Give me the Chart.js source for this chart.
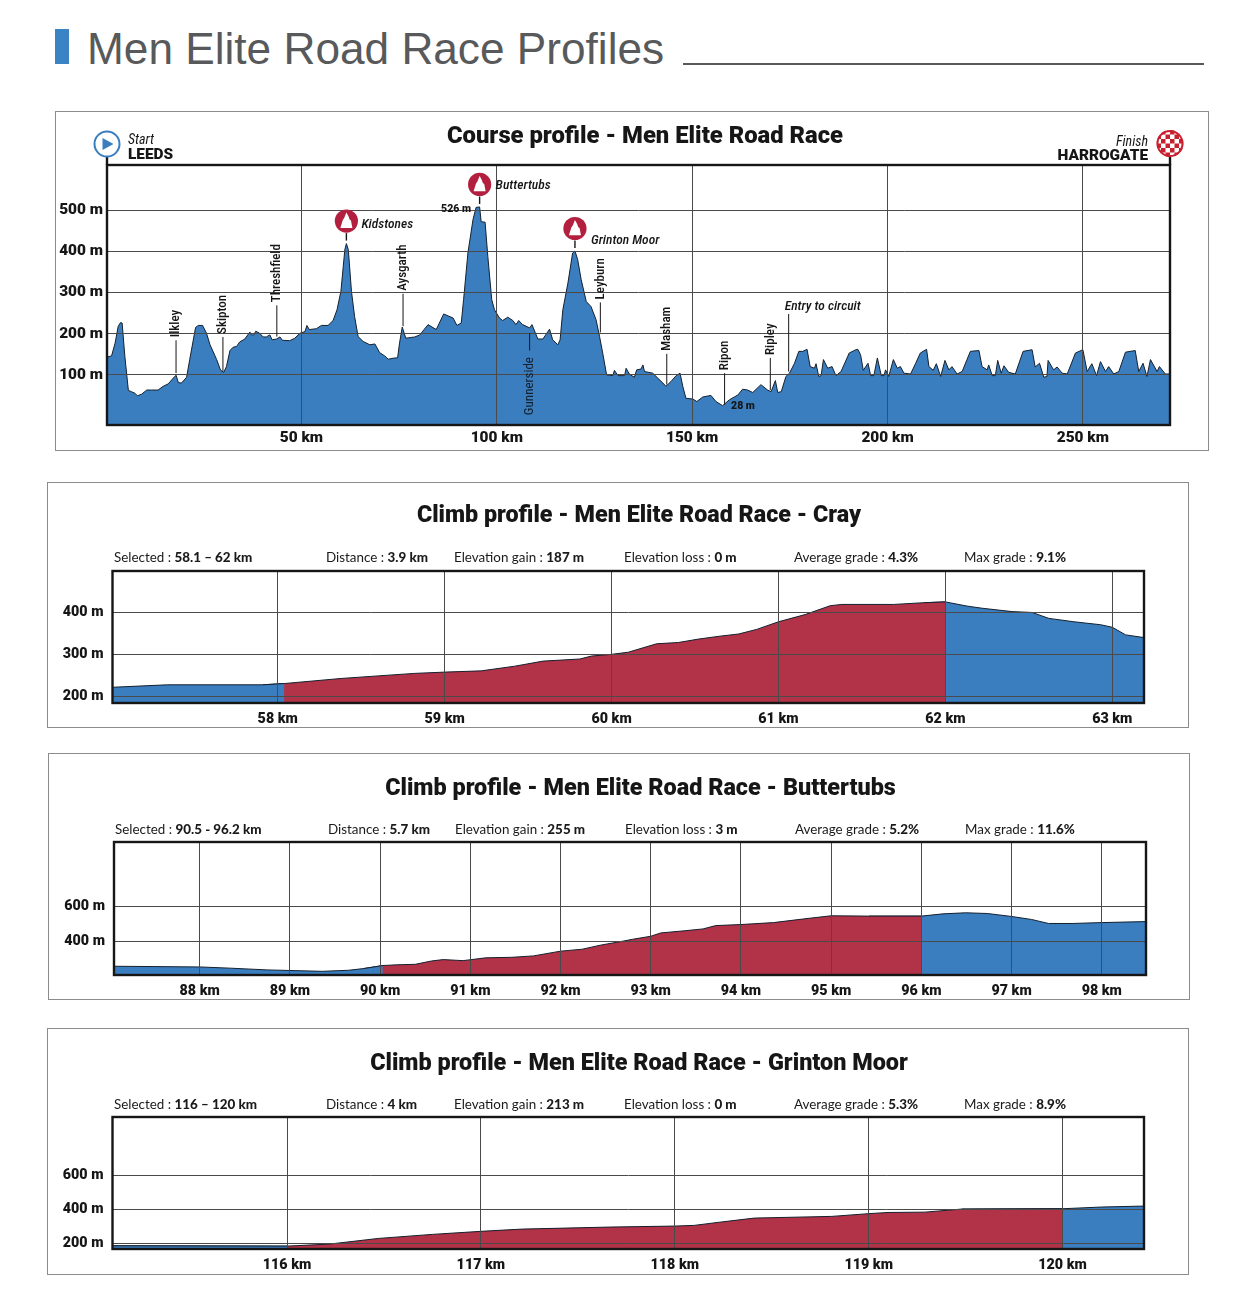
<!DOCTYPE html>
<html><head><meta charset="utf-8">
<script src="https://cdn.jsdelivr.net/npm/chart.js@4/dist/chart.umd.js"></script>
<style>
html,body{margin:0;padding:0;background:#fff}
#page{position:relative;width:1246px;height:1300px;overflow:hidden;font-family:Lato,sans-serif;color:#1a1a1a}
#page>*{position:absolute}
.panel{border:1px solid #8c8c8c;box-sizing:border-box}
.stat{font-size:13.4px;line-height:16px;white-space:nowrap}
.stat b{font-weight:900}
canvas{display:block}
</style></head><body><div id="page">
<div style="left:55px;top:29px;width:14px;height:35px;background:#3a84c6"></div>
<div id="head" style="left:87px;top:23.5px;font:44.2px 'Liberation Sans',Arial,sans-serif;color:#58595b;white-space:nowrap">Men Elite Road Race Profiles</div>
<div style="left:683px;top:63px;width:521px;height:2px;background:#58595b"></div>
</div>
<script>
const courseKm=[0.2,1.4,2.3,3.1,3.7,4.1,4.8,5.7,6.5,7.4,8.0,9.1,10.4,11.6,13.3,14.6,15.9,17.2,17.9,18.5,19.3,20.6,21.4,22.9,23.6,24.7,25.7,26.6,28.3,29.3,30.1,30.8,31.7,32.5,33.4,34.2,35.5,36.8,37.2,37.8,38.3,39.3,40.2,41.0,41.9,42.5,43.6,44.5,45.1,47.0,48.3,49.6,50.9,51.4,52.0,53.8,55.1,56.8,58.1,59.1,60.1,61.1,61.5,62.0,62.8,63.6,64.5,65.8,67.5,68.8,70.0,71.3,72.2,73.9,74.6,75.1,75.8,76.7,79.0,80.3,82.4,84.5,86.4,88.8,89.8,90.9,91.5,92.6,93.9,94.7,95.6,96.0,97.0,97.7,98.7,99.4,100.7,101.5,102.8,104.1,104.9,105.6,106.6,108.4,109.0,110.5,111.8,113.5,114.3,115.6,116.2,116.9,118.2,119.4,120.0,120.7,121.6,122.9,124.1,125.4,126.3,127.1,128.1,129.7,130.1,131.0,132.7,133.1,133.9,135.2,135.8,136.9,137.4,137.8,139.9,141.2,142.5,143.3,144.6,145.9,146.9,147.6,148.4,150.2,151.2,152.7,154.8,156.1,157.8,159.5,161.7,162.9,164.2,165.5,167.6,169.3,170.2,171.3,171.9,172.8,174.0,174.9,176.2,177.3,178.3,179.4,180.2,181.3,181.7,182.4,183.0,183.6,184.7,185.8,186.8,188.1,190.2,191.9,192.4,193.1,193.8,195.0,195.7,196.5,197.4,198.4,199.1,199.5,200.3,201.5,202.5,203.3,204.2,205.9,207.2,208.4,210.0,210.6,211.7,212.5,213.6,214.7,215.7,216.5,217.8,219.1,221.2,223.4,224.2,225.5,225.9,226.8,227.6,228.2,229.1,229.8,231.0,232.7,234.7,237.0,237.8,238.9,240.0,240.8,241.1,242.5,243.4,244.7,246.0,248.1,250.0,251.1,252.3,253.5,254.5,255.8,256.6,257.9,259.2,260.9,263.4,264.3,265.4,266.4,267.3,269.0,269.6,271.1,272.4];
const courseElev=[143,146,177,218,227,226,145,62,59,55,49,53,63,63,63,72,78,92,99,81,80,94,137,215,220,220,201,173,137,111,106,120,159,167,169,180,187,204,197,197,206,201,192,192,197,185,187,192,184,183,189,201,205,220,210,212,220,220,232,258,303,404,419,404,303,242,193,181,173,175,154,146,138,141,141,177,216,189,192,197,222,210,248,238,220,226,283,396,477,507,508,472,471,388,283,258,238,232,240,232,222,232,222,214,222,187,187,211,185,173,185,258,323,396,401,380,331,278,266,234,193,153,100,98,111,98,98,116,102,94,112,114,124,108,104,92,80,72,84,98,104,72,43,41,35,46,50,35,25,39,51,65,63,57,76,63,59,86,57,59,96,104,128,157,157,162,120,116,127,96,98,137,116,120,98,108,153,161,162,149,111,128,98,98,141,98,98,112,96,137,116,120,104,102,128,153,162,120,111,127,96,135,112,120,102,108,157,159,120,112,124,98,98,135,104,122,106,102,157,161,119,128,94,96,135,112,119,104,102,153,161,108,127,98,132,108,120,102,108,155,159,108,128,96,137,108,120,102,102];
const courseKmTicks=[50,100,150,200,250];
const courseElevTicks=[100,200,300,400,500];

const crayKm=[57.0,57.34,57.91,58.04,58.38,58.82,59,59.22,59.42,59.59,59.81,59.88,60,60.1,60.27,60.4,60.52,60.65,60.76,60.87,61,61.16,61.31,61.38,61.69,61.87,62,62.13,62.22,62.4,62.52,62.62,62.77,62.93,63,63.08,63.2];
const crayElev=[222,228,228,231,243,255,258,261,272,284,289,296,300,305,325,328,336,343,348,359,377,394,415,418,418,422,424,414,409,401,399,385,377,370,364,346,339];
const crayKmTicks=[58,59,60,61,62,63];
const crayElevTicks=[200,300,400];

const buttertubsKm=[87.04,88,88.34,88.75,89.36,89.65,89.82,90.03,90.18,90.39,90.57,90.7,90.92,91.17,91.46,91.7,92,92.24,92.44,92.69,92.8,93,93.11,93.37,93.58,93.72,94,94.36,94.68,95,95.42,96,96.24,96.49,96.73,97,97.22,97.41,97.67,98,98.5];
const buttertubsElev=[261,257,250,240,232,238,248,265,269,272,291,299,293,309,312,320,347,358,381,404,415,432,451,463,474,493,499,510,530,549,547,547,560,566,562,545,528,505,505,510,516];
const buttertubsKmTicks=[88,89,90,91,92,93,94,95,96,97,98];
const buttertubsElevTicks=[400,600];

const grintonKm=[115.09,116,116.22,116.47,116.75,117,117.21,117.66,118,118.1,118.24,118.41,118.81,119,119.1,119.29,119.48,120,120.2,120.43];
const grintonElev=[184,182,194,227,251,269,282,294,300,304,324,347,357,373,380,382,400,402,412,418];
const grintonKmTicks=[116,117,118,119,120];
const grintonElevTicks=[200,400,600];

const statLabels=["Selected : ","Distance : ","Elevation gain : ","Elevation loss : ","Average grade : ","Max grade : "];
const crayStats=["58.1 – 62 km","3.9 km","187 m","0 m","4.3%","9.1%"];
const buttertubsStats=["90.5 - 96.2 km","5.7 km","255 m","3 m","5.2%","11.6%"];
const grintonStats=["116 – 120 km","4 km","213 m","0 m","5.3%","8.9%"];

const townNames=["Ilkley","Skipton","Threshfield","Aysgarth","Leyburn","Masham","Ripon","Ripley"];
const townKm=[17.9,29.9,43.7,76,126.5,143.5,158.3,170];
const townBase=[104,108,193,218,203,76,27,63];
const townTop=[184,192,269,297,276,151,104,141];
const climbNames=["Kidstones","Buttertubs","Grinton Moor"];
const climbKm=[61.5,95.6,120];
const climbTop=[419,508,401];

const BLUE='#3a7ec0',RED='#b23248',INK='#161616',LINE='#14202e',GRID='#4a4a4a';
const COND="'Roboto Condensed','Liberation Sans',sans-serif";
const HEAVY="Roboto";
const page=document.getElementById('page');

function pick(km,el,from,to){const o=[];km.forEach((k,i)=>{if(k>=from&&k<=to)o.push({x:k,y:el[i]})});return o}
function series(data,color){return {data,backgroundColor:color,borderColor:LINE,borderWidth:1,fill:'start',pointRadius:0,tension:0}}

const framePlugin={id:'frame',afterDraw(c){const a=c.chartArea,g=c.ctx;g.save();g.strokeStyle=INK;g.lineWidth=2.4;g.strokeRect(a.left,a.top,a.right-a.left,a.bottom-a.top);g.restore()}};

function txt(g,s,x,y,font,align,color){g.font=font;g.textAlign=align||'left';g.textBaseline='middle';g.fillStyle=color||INK;g.fillText(s,x,y)}
function vtxt(g,s,x,y,font,color){g.save();g.translate(x,y);g.rotate(-Math.PI/2);txt(g,s,0,0,font,'left',color);g.restore()}
function vline(g,x,y1,y2,w){g.strokeStyle=INK;g.lineWidth=w||1;g.beginPath();g.moveTo(x,y1);g.lineTo(x,y2);g.stroke()}

const coursePlugin={id:'courseMarks',afterDraw(c){
  const g=c.ctx,X=c.scales.x,Y=c.scales.y,a=c.chartArea;g.save();
  const tf="13px "+COND;
  townNames.forEach((n,i)=>{const x=X.getPixelForValue(townKm[i]);
    vline(g,x,Y.getPixelForValue(townBase[i]),Y.getPixelForValue(townTop[i]));
    vtxt(g,n,x,Y.getPixelForValue(townTop[i])-3,"500 "+tf)});
  const gx=X.getPixelForValue(108.4);
  vline(g,gx,Y.getPixelForValue(201),Y.getPixelForValue(159));
  vtxt(g,"Gunnerside",gx,Y.getPixelForValue(2),tf,'#14202e');
  const ex=X.getPixelForValue(174.7);
  vline(g,ex,Y.getPixelForValue(108),Y.getPixelForValue(248));
  txt(g,"Entry to circuit",ex-4,a.top+142,"italic 500 13.5px "+COND);
  const lab=[[15,3.5],[16,0.8],[16,12.2]];
  climbNames.forEach((n,i)=>{const x=X.getPixelForValue(climbKm[i]),yp=Y.getPixelForValue(climbTop[i]),cy=yp-22.5;
    vline(g,x,yp-3,cy+12,1.4);
    g.fillStyle='#b3203f';g.beginPath();g.arc(x,cy,11.6,0,7);g.fill();
    g.fillStyle='#fff';g.beginPath();g.moveTo(x,cy-8.5);g.lineTo(x+2.2,cy-4.5);g.lineTo(x+3.2,cy-1.5);g.lineTo(x+4.6,cy-.5);g.lineTo(x+6,cy+6.8);g.lineTo(x-6,cy+6.8);g.lineTo(x-3.6,cy-1);g.lineTo(x-2.2,cy-3);g.closePath();g.fill();
    txt(g,n,x+lab[i][0],cy+lab[i][1],"italic 500 13.5px "+COND)});
  txt(g,"526 m",X.getPixelForValue(93.4),Y.getPixelForValue(503),"900 10.5px "+HEAVY,'right');
  txt(g,"28 m",X.getPixelForValue(163),Y.getPixelForValue(23),"900 10.5px "+HEAVY,'center');
  const sx=a.left,sy=a.top-21;
  vline(g,sx,sy+12,a.top,2.4);
  g.fillStyle='#fff';g.strokeStyle=BLUE;g.lineWidth=2;g.beginPath();g.arc(sx,sy,12.5,0,7);g.fill();g.stroke();
  g.fillStyle=BLUE;g.beginPath();g.moveTo(sx-4.5,sy-6);g.lineTo(sx+6.5,sy);g.lineTo(sx-4.5,sy+6);g.closePath();g.fill();
  txt(g,"Start",sx+21,sy-4,"italic 14px "+COND);
  txt(g,"LEEDS",sx+21,sy+11,"900 15.4px "+HEAVY);
  const fx=a.right,fy=a.top-21.5,r=13.5,s=4.5;
  vline(g,fx,fy+12,a.top,2.4);
  g.save();g.beginPath();g.arc(fx,fy,r,0,7);g.clip();g.fillStyle='#fff';g.fillRect(fx-r,fy-r,2*r,2*r);g.fillStyle='#c8202f';
  for(let i=-4;i<4;i++)for(let j=-4;j<4;j++)if((i+j)&1)g.fillRect(fx+i*s,fy+j*s,s,s);
  g.restore();g.strokeStyle='#c8202f';g.lineWidth=2;g.beginPath();g.arc(fx,fy,r-1,0,7);g.stroke();
  txt(g,"Finish",fx-22,fy-1.5,"italic 14px "+COND,'right');
  txt(g,"HARROGATE",fx-22,fy+12.5,"900 15.4px "+HEAVY,'right');
  g.restore();
}};

function makeChart(o){
  const cv=document.createElement('canvas');cv.width=o.right-o.left;cv.height=o.bottom-o.top;
  cv.style.left=o.left+'px';cv.style.top=o.top+'px';
  const box=document.createElement('div');box.className='panel';
  box.style.cssText+=`left:${o.left}px;top:${o.top}px;width:${o.boxRight-o.left}px;height:${o.bottom-o.top}px`;
  page.appendChild(box);page.appendChild(cv);
  new Chart(cv,{type:'line',data:{datasets:o.datasets},plugins:o.plugins,options:{
    responsive:false,animation:false,events:[],
    layout:{padding:0},
    plugins:{legend:{display:false},tooltip:{enabled:false},
      title:{display:true,text:o.title,color:INK,align:'center',fullSize:true,
        font:{family:HEAVY,weight:'900',size:o.titleSize,lineHeight:1},
        padding:{top:o.titleTop,bottom:o.plotTop-o.top-o.titleTop-o.titleSize}}},
    scales:{
      x:{type:'linear',min:o.xMin,max:o.xMax,
        afterBuildTicks:s=>{s.ticks=o.xTicks.map(v=>({value:v}))},
        afterFit:s=>{s.height=o.bottom-o.plotBottom},
        grid:{z:1,color:GRID,lineWidth:1,drawTicks:false},border:{display:false},
        ticks:{autoSkip:false,maxRotation:0,minRotation:0,padding:o.xPad,color:INK,font:{family:HEAVY,weight:'900',size:o.tickSize},callback:v=>v+' km'}},
      y:{type:'linear',min:o.yMin,max:o.yMax,
        afterBuildTicks:s=>{s.ticks=o.yTicks.map(v=>({value:v}))},
        afterFit:s=>{s.width=o.plotLeft-o.left},
        grid:{z:1,color:GRID,lineWidth:1,drawTicks:false},border:{display:false},
        ticks:{autoSkip:false,padding:o.yPad,color:INK,font:{family:HEAVY,weight:'900',size:o.tickSize},callback:v=>v+' m'}},
      spare:{type:'linear',axis:'y',position:'right',min:0,max:1,
        afterFit:s=>{s.width=o.right-o.plotRight},
        grid:{display:false},border:{display:false},ticks:{display:false}}
    }}});
}
function stats(vals,xs,y){vals.forEach((v,i)=>{const d=document.createElement('div');d.className='stat';d.style.left=xs[i]+'px';d.style.top=(y-8)+'px';
  d.textContent=statLabels[i];const b=document.createElement('b');b.textContent=v;d.appendChild(b);page.appendChild(d)})}

makeChart({left:55,right:1235,boxRight:1209,top:111,bottom:451,plotLeft:107,plotRight:1170,plotTop:165,plotBottom:425,
  title:"Course profile - Men Elite Road Race",titleSize:23.8,titleTop:14,tickSize:15.4,xPad:4,yPad:4,
  xMin:0.23,xMax:272.3,yMin:-22,yMax:610,xTicks:courseKmTicks,yTicks:courseElevTicks,
  datasets:[series(pick(courseKm,courseElev,0,300),BLUE)],plugins:[framePlugin,coursePlugin]});
makeChart({left:47,right:1231,boxRight:1189,top:482,bottom:728,plotLeft:112.5,plotRight:1144,plotTop:571,plotBottom:703,
  title:"Climb profile - Men Elite Road Race - Cray",titleSize:23.3,titleTop:23,tickSize:14.3,xPad:8,yPad:9,
  xMin:57.01,xMax:63.19,yMin:185,yMax:497,xTicks:crayKmTicks,yTicks:crayElevTicks,
  datasets:[series(pick(crayKm,crayElev,0,58.04),BLUE),series(pick(crayKm,crayElev,57.91,62),RED),series(pick(crayKm,crayElev,61.87,99),BLUE)],plugins:[framePlugin]});
makeChart({left:48,right:1233,boxRight:1190,top:753,bottom:1000,plotLeft:114,plotRight:1146,plotTop:842,plotBottom:975,
  title:"Climb profile - Men Elite Road Race - Buttertubs",titleSize:23.4,titleTop:24,tickSize:14.3,xPad:8,yPad:9,
  xMin:87.05,xMax:98.49,yMin:211,yMax:970,xTicks:buttertubsKmTicks,yTicks:buttertubsElevTicks,
  datasets:[series(pick(buttertubsKm,buttertubsElev,0,90.03),BLUE),series(pick(buttertubsKm,buttertubsElev,89.82,96),RED),series(pick(buttertubsKm,buttertubsElev,95.42,999),BLUE)],plugins:[framePlugin]});
makeChart({left:47,right:1231,boxRight:1189,top:1028,bottom:1275,plotLeft:112.5,plotRight:1144,plotTop:1117,plotBottom:1249,
  title:"Climb profile - Men Elite Road Race - Grinton Moor",titleSize:23.4,titleTop:24,tickSize:14.3,xPad:8,yPad:9,
  xMin:115.1,xMax:120.42,yMin:165,yMax:942,xTicks:grintonKmTicks,yTicks:grintonElevTicks,
  datasets:[series(pick(grintonKm,grintonElev,0,116),BLUE),series(pick(grintonKm,grintonElev,115.09,120),RED),series(pick(grintonKm,grintonElev,119.48,999),BLUE)],plugins:[framePlugin]});

stats(crayStats,[114,326,454,624,794,964],557);
stats(buttertubsStats,[115,328,455,625,795,965],829);
stats(grintonStats,[114,326,454,624,794,964],1104);
</script></body></html>
